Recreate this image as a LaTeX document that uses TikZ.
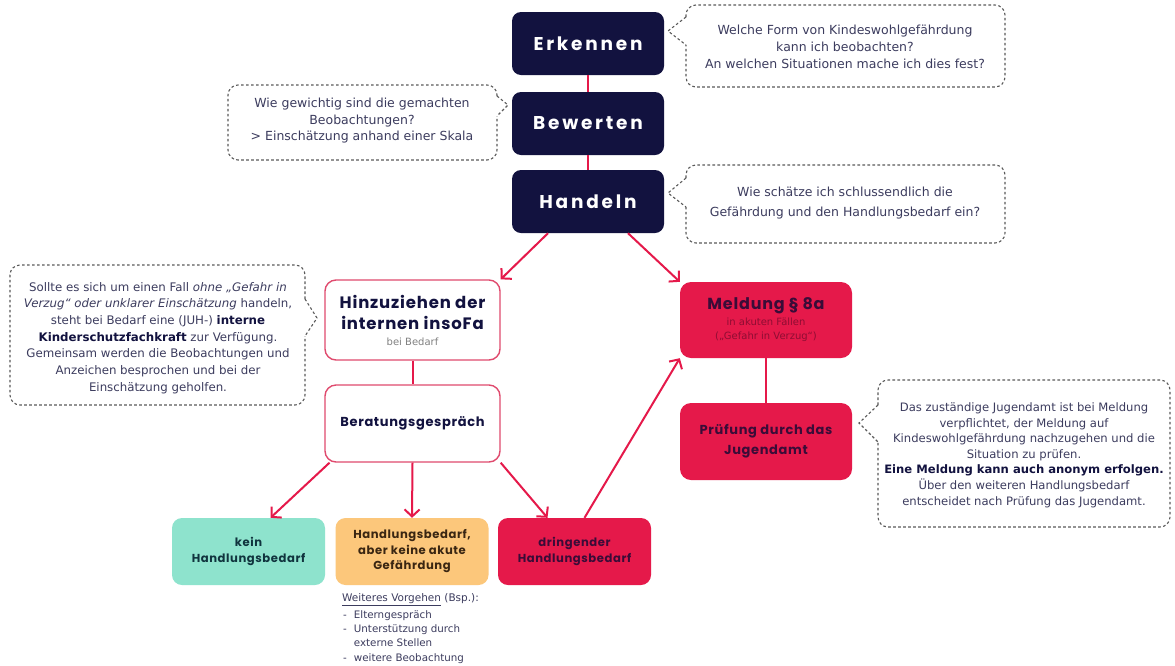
\documentclass[tikz,border=0pt]{standalone}
\usepackage{fontspec}
\setmainfont{DejaVu Sans}
\newfontfamily\headfont{Poppins}
\newfontfamily\headfontsp[LetterSpace=15]{Poppins}
\newfontfamily\headfontls[LetterSpace=5]{Poppins}
\usetikzlibrary{arrows.meta,calc}
\definecolor{navy}{HTML}{12123F}
\definecolor{jred}{HTML}{E5194A}
\definecolor{jborder}{HTML}{E04A6E}
\definecolor{jteal}{HTML}{8EE3CD}
\definecolor{jorange}{HTML}{FCC77B}
\definecolor{btext}{HTML}{3C3C5E}
\definecolor{cgray}{HTML}{5A5A5A}
\definecolor{redtext}{HTML}{3A0C38}
\definecolor{smallred}{HTML}{8E0D33}
\definecolor{tealtext}{HTML}{10343E}
\definecolor{orangetext}{HTML}{3A2612}
\tikzset{
  stepbox/.style={fill=navy, rounded corners=9pt, minimum width=152pt, minimum height=63pt, text=white, inner sep=0pt,
    font=\headfontsp\bfseries\fontsize{18.5}{22}\selectfont},
  whitebox/.style={draw=jborder, line width=1.4pt, fill=white, rounded corners=11pt, minimum width=175pt, align=center, text=navy, inner sep=2pt},
  redbox/.style={fill=jred, rounded corners=11pt, minimum width=172pt, align=center, text=redtext, inner sep=2pt},
  resbox/.style={rounded corners=10pt, minimum width=153pt, minimum height=67pt, align=center, inner sep=2pt,
    font=\headfontls\bfseries\fontsize{11.6}{15.5}\selectfont},
  cbord/.style={draw=cgray, line width=1.1pt, dash pattern=on 2.6pt off 2.4pt},
  ctext/.style={align=center, text=btext, font=\fontsize{12.5}{17}\selectfont},
  link/.style={draw=jred, line width=2.4pt},
  arr/.style={draw=jred, line width=2pt, -{Straight Barb[length=7pt,width=15pt,line width=2pt]}},
}
\begin{document}
\begin{tikzpicture}[x=1pt,y=-1pt]
\useasboundingbox[fill=white] (0,0) rectangle (1175,665);

% main step boxes
\node[stepbox] (erk) at (588,43.5) {Erkennen};
\node[stepbox] (bew) at (588,123.5) {Bewerten};
\node[stepbox] (hand) at (588,201.5) {Handeln};
\draw[link] (erk) -- (bew);
\draw[link] (bew) -- (hand);

% callouts
\draw[cbord, rounded corners=10pt] (686,17) -- (686,5) -- (1005,5) -- (1005,87) -- (686,87) -- (686,45);
\draw[cbord] (686,17) -- (668,31) -- (686,45);
\node[ctext] (t1) at (845,47) {Welche Form von Kindeswohlgefährdung\\kann ich beobachten?\\An welchen Situationen mache ich dies fest?};

\draw[cbord, rounded corners=10pt] (497,96) -- (497,85) -- (228,85) -- (228,160) -- (497,160) -- (497,116);
\draw[cbord] (497,96) -- (508,105) -- (497,116);
\node[ctext, font=\fontsize{12.5}{16.5}\selectfont] (t2) at (362,121) {Wie gewichtig sind die gemachten\\Beobachtungen?\\> Einschätzung anhand einer Skala};

\draw[cbord, rounded corners=10pt] (686,178) -- (686,165) -- (1005,165) -- (1005,243) -- (686,243) -- (686,207);
\draw[cbord] (686,178) -- (668,193) -- (686,207);
\node[ctext, font=\fontsize{12.5}{20}\selectfont] (t3) at (845,203) {Wie schätze ich schlussendlich die\\Gefährdung und den Handlungsbedarf ein?};

\draw[cbord, rounded corners=10pt] (305,299) -- (305,265) -- (10,265) -- (10,405) -- (305,405) -- (305,336);
\draw[cbord] (305,299) -- (317,318) -- (305,336);
\node[ctext, font=\fontsize{11.8}{16.7}\selectfont] (t4) at (158,338) {Sollte es sich um einen Fall \textit{ohne „Gefahr in}\\\textit{Verzug“ oder unklarer Einschätzung} handeln,\\steht bei Bedarf eine (JUH-) \textbf{\textcolor{navy}{interne}}\\\textbf{\textcolor{navy}{Kinderschutzfachkraft}} zur Verfügung.\\Gemeinsam werden die Beobachtungen und\\Anzeichen besprochen und bei der\\Einschätzung geholfen.};

\draw[cbord, rounded corners=10pt] (878,405) -- (878,380) -- (1170,380) -- (1170,527) -- (878,527) -- (878,442);
\draw[cbord] (878,405) -- (859,423) -- (878,442);
\node[ctext, font=\fontsize{11.6}{15.6}\selectfont] (t5) at (1024,455) {Das zuständige Jugendamt ist bei Meldung\\verpflichtet, der Meldung auf\\Kindeswohlgefährdung nachzugehen und die\\Situation zu prüfen.\\\textbf{\textcolor{navy}{Eine Meldung kann auch anonym erfolgen.}}\\Über den weiteren Handlungsbedarf\\entscheidet nach Prüfung das Jugendamt.};

% left branch
\node[whitebox, minimum height=80pt, font=\headfontls\bfseries\fontsize{16.5}{21}\selectfont] (hinz) at (412.5,320)
  {Hinzuziehen der\\internen insoFa\\[-5pt]{\normalfont\fontsize{10}{12}\selectfont\textcolor{gray}{bei Bedarf}}};
\node[whitebox, minimum height=77pt, font=\headfontls\bfseries\fontsize{13}{16}\selectfont] (berat) at (412.5,423.5) {Beratungsgespräch};
\draw[link, line width=2pt] (hinz) -- (berat);

% right branch
\node[redbox, minimum height=76pt, font=\headfontls\bfseries\fontsize{16}{19}\selectfont] (meld) at (766,320)
  {Meldung § 8a\\[-3pt]{\normalfont\fontsize{10}{12}\selectfont\textcolor{smallred}{in akuten Fällen}}\\[-5pt]{\normalfont\fontsize{10}{12}\selectfont\textcolor{smallred}{(„Gefahr in Verzug“)}}};
\node[redbox, minimum height=77pt, font=\headfontls\bfseries\fontsize{13}{20}\selectfont] (pruef) at (766,441.5) {Prüfung durch das\\Jugendamt};
\draw[link] (meld) -- (pruef);

% result boxes
\node[resbox, fill=jteal, text=tealtext] (kein) at (248.5,551.5) {kein\\Handlungsbedarf};
\node[resbox, fill=jorange, text=orangetext] (mittel) at (412,551.5) {Handlungsbedarf,\\aber keine akute\\Gefährdung};
\node[resbox, fill=jred, text=redtext] (dring) at (574.5,551.5) {dringender\\Handlungsbedarf};

% arrows
\draw[arr] ([xshift=-40pt]hand.south) -- (hinz.north east);
\draw[arr] ([xshift=40pt]hand.south) -- (meld.north west);
\draw[arr] ([xshift=-83pt]berat.south) -- ([xshift=22pt]kein.north);
\draw[arr] (berat.south) -- (mittel.north);
\draw[arr] (berat.south east) -- ([xshift=-27pt]dring.north);
\draw[arr] ([xshift=10pt]dring.north) -- (meld.south west);

% further steps
\node[anchor=west, text=btext, font=\fontsize{10.5}{12}\selectfont, inner sep=0pt] (wv) at (342,600) {\underline{Weiteres Vorgehen} (Bsp.):};
\node[anchor=north west, text=btext, font=\fontsize{10.3}{14.4}\selectfont, inner sep=0pt, align=left] (liste) at (343,610)
  {-\hspace{7pt}Elterngespräch\\-\hspace{7pt}Unterstützung durch\\\phantom{-}\hspace{7pt}externe Stellen\\-\hspace{7pt}weitere Beobachtung};
\end{tikzpicture}
\end{document}
